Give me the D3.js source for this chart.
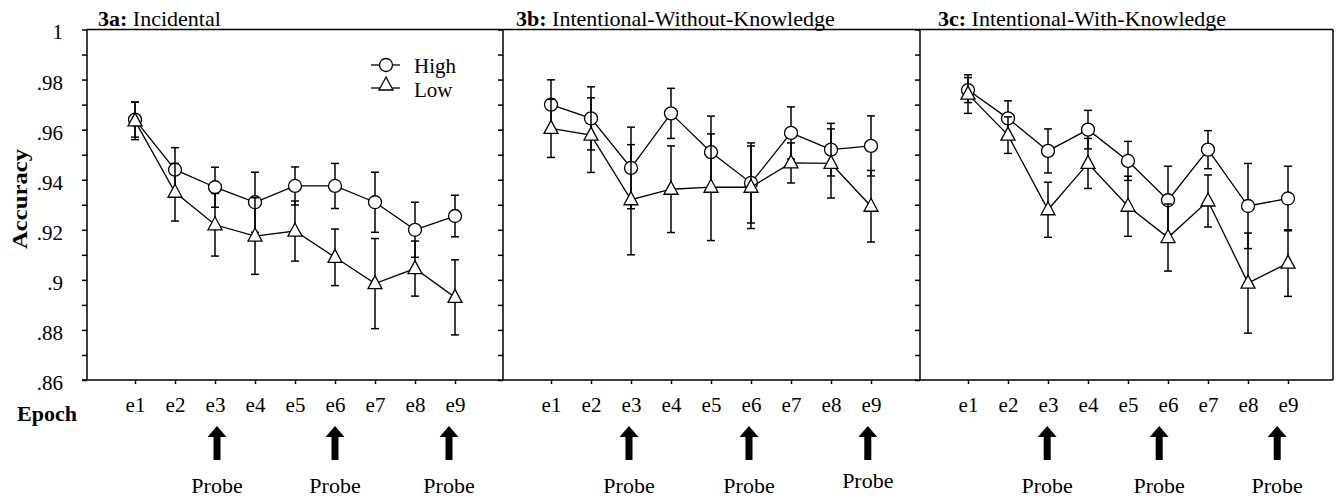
<!DOCTYPE html>
<html>
<head>
<meta charset="utf-8">
<script src="https://cdn.jsdelivr.net/npm/d3@7"></script>
<style>
  body { margin: 0; background: #fff; }
  svg text { font-family: "Liberation Serif", "Times New Roman", serif; fill: #000; }
</style>
</head>
<body>
<script>
// epochs on the x axis
var epochs = [1, 2, 3, 4, 5, 6, 7, 8, 9];

// y ticks
var yMajor = [0.86, 0.88, 0.90, 0.92, 0.94, 0.96, 0.98, 1.00];
var yMinor = [0.87, 0.89, 0.91, 0.93, 0.95, 0.97, 0.99];

var panelTags = ["3a:", "3b:", "3c:"];
var panelNames = ["Incidental", "Intentional-Without-Knowledge", "Intentional-With-Knowledge"];

// 3a Incidental
var incidentalHigh    = [0.964, 0.944, 0.937, 0.931, 0.9375, 0.9375, 0.931, 0.920, 0.9255];
var incidentalHighErr = [0.007, 0.0088, 0.008, 0.012, 0.0076, 0.009, 0.012, 0.011, 0.0083];
var incidentalLow     = [0.9635, 0.935, 0.922, 0.9175, 0.9195, 0.909, 0.8985, 0.9045, 0.893];
var incidentalLowErr  = [0.0075, 0.0115, 0.0125, 0.0153, 0.012, 0.0113, 0.018, 0.011, 0.015];

// 3b Intentional-Without-Knowledge
var withoutHigh    = [0.970, 0.9645, 0.9447, 0.9665, 0.951, 0.9387, 0.9587, 0.952, 0.9535];
var withoutHighErr = [0.0099, 0.0126, 0.0163, 0.010, 0.0144, 0.016, 0.0104, 0.0105, 0.012];
var withoutLow     = [0.9605, 0.9578, 0.932, 0.9362, 0.937, 0.937, 0.9467, 0.9465, 0.9294];
var withoutLowErr  = [0.0116, 0.0149, 0.022, 0.0173, 0.0213, 0.0165, 0.008, 0.0138, 0.0143];

// 3c Intentional-With-Knowledge
var withHigh    = [0.9758, 0.9645, 0.9515, 0.960, 0.9475, 0.9318, 0.952, 0.9295, 0.9325];
var withHighErr = [0.005, 0.007, 0.0088, 0.0077, 0.0078, 0.0136, 0.0076, 0.017, 0.0129];
var withLow     = [0.9742, 0.9578, 0.928, 0.9465, 0.9294, 0.9169, 0.9315, 0.8987, 0.9067];
var withLowErr  = [0.0077, 0.0073, 0.011, 0.010, 0.012, 0.0134, 0.0104, 0.020, 0.0133];

// where the probe arrows sit (in epoch units)
var probeEpochs = [[3.05, 6, 8.85], [2.95, 5.95, 8.92], [2.98, 5.78, 8.73]];

var panels = [
  {high: incidentalHigh, highErr: incidentalHighErr, low: incidentalLow, lowErr: incidentalLowErr},
  {high: withoutHigh, highErr: withoutHighErr, low: withoutLow, lowErr: withoutLowErr},
  {high: withHigh, highErr: withHighErr, low: withLow, lowErr: withLowErr}
];

var W = 1341, H = 500;
var plotTop = 29.5, plotBottom = 380;
var lefts = [87, 503, 920], rightEdge = 1333;
var titleDx = [11, 13, 18];

var svg = d3.select("body").append("svg")
    .attr("width", W)
    .attr("height", H);

var y = d3.scaleLinear().domain([0.86, 1]).range([plotBottom, plotTop]);

var tri = "M0,-8L7,5L-7,5Z";

// frame: top line, bottom line, panel dividers
svg.append("line").attr("x1", lefts[0]).attr("x2", rightEdge).attr("y1", plotTop).attr("y2", plotTop)
  .attr("stroke", "#000").attr("stroke-width", 1.5);
svg.append("line").attr("x1", lefts[0] - 5).attr("x2", rightEdge).attr("y1", plotBottom).attr("y2", plotBottom)
  .attr("stroke", "#000").attr("stroke-width", 1.5);
lefts.concat([rightEdge]).forEach(function(lx) {
  svg.append("line").attr("x1", lx).attr("x2", lx).attr("y1", plotTop).attr("y2", plotBottom)
    .attr("stroke", "#000").attr("stroke-width", 1.5);
});

panels.forEach(function(p, i) {
  var left = lefts[i];
  var x = d3.scaleLinear().domain([1, 9]).range([left + 48, left + 48 + 320]);
  var g = svg.append("g");

  // y axis (labels only on the first panel)
  var yAxis = d3.axisLeft(y).tickValues(yMajor).tickSize(5).tickPadding(19)
    .tickFormat(function(d) {
      if (i > 0) return "";
      return d === 1 ? "1" : d3.format(".2~f")(d).replace(/^0/, "");
    });
  var ya = g.append("g").attr("transform", "translate(" + left + ",0)").call(yAxis);
  ya.attr("font-family", null).attr("font-size", null);
  ya.select(".domain").remove();
  ya.selectAll("line").attr("stroke-width", 1.5);
  ya.selectAll("text").attr("font-size", 21).attr("dy", "0.45em");
  var ym = g.append("g").attr("transform", "translate(" + left + ",0)")
    .call(d3.axisLeft(y).tickValues(yMinor).tickSize(5).tickFormat(""));
  ym.select(".domain").remove();
  ym.selectAll("line").attr("stroke-width", 1.5);

  // x axis
  var xa = g.append("g").attr("transform", "translate(0," + plotBottom + ")")
    .call(d3.axisBottom(x).tickValues(epochs).tickSize(4).tickPadding(13)
      .tickFormat(function(d) { return "e" + d; }));
  xa.attr("font-family", null).attr("font-size", null);
  xa.select(".domain").remove();
  xa.selectAll("line").attr("stroke-width", 1.5);
  xa.selectAll("text").attr("font-size", 21);

  // title
  var t = svg.append("text").attr("x", left + titleDx[i]).attr("y", 26).attr("font-size", 22);
  t.append("tspan").attr("font-weight", "bold").text(panelTags[i] + " ");
  t.append("tspan").text(panelNames[i]);

  var line = d3.line().x(function(d, k) { return x(epochs[k]); }).y(function(d) { return y(d); });

  function series(vals, errs, isLow) {
    var eg = g.append("g").attr("stroke", "#000").attr("stroke-width", 1.5);
    vals.forEach(function(v, k) {
      var cx = x(epochs[k]), y1 = y(v + errs[k]), y2 = y(v - errs[k]);
      eg.append("line").attr("x1", cx).attr("x2", cx).attr("y1", y1).attr("y2", y2);
      eg.append("line").attr("x1", cx - 4).attr("x2", cx + 4).attr("y1", y1).attr("y2", y1);
      eg.append("line").attr("x1", cx - 4).attr("x2", cx + 4).attr("y1", y2).attr("y2", y2);
    });
    g.append("path").datum(vals).attr("d", line)
      .attr("fill", "none").attr("stroke", "#000").attr("stroke-width", 1.3);
    vals.forEach(function(v, k) {
      if (isLow) {
        g.append("path").attr("d", tri)
          .attr("transform", "translate(" + x(epochs[k]) + "," + y(v) + ")")
          .attr("fill", "#fff").attr("stroke", "#000").attr("stroke-width", 1.3);
      } else {
        g.append("circle").attr("cx", x(epochs[k])).attr("cy", y(v)).attr("r", 6.5)
          .attr("fill", "#fff").attr("stroke", "#000").attr("stroke-width", 1.3);
      }
    });
  }
  series(p.high, p.highErr, false);
  series(p.low, p.lowErr, true);

  // probe arrows and labels
  probeEpochs[i].forEach(function(e, k) {
    var ax = x(e);
    svg.append("path")
      .attr("d", "M" + ax + ",426L" + (ax + 9.5) + ",437L" + (ax + 3.5) + ",437L" + (ax + 3.5) + ",460L" +
        (ax - 3.5) + ",460L" + (ax - 3.5) + ",437L" + (ax - 9.5) + ",437Z")
      .attr("fill", "#000");
    svg.append("text").attr("x", ax).attr("y", (i === 1 && k === 2) ? 488 : 493)
      .attr("text-anchor", "middle").attr("font-size", 22).text("Probe");
  });
});

// legend in panel a
var lg = svg.append("g");
lg.append("line").attr("x1", 371).attr("x2", 400).attr("y1", 65).attr("y2", 65).attr("stroke", "#000").attr("stroke-width", 1.3);
lg.append("circle").attr("cx", 386).attr("cy", 65).attr("r", 6.5).attr("fill", "#fff").attr("stroke", "#000").attr("stroke-width", 1.3);
lg.append("text").attr("x", 414).attr("y", 73).attr("font-size", 21).text("High");
lg.append("line").attr("x1", 371).attr("x2", 400).attr("y1", 88).attr("y2", 88).attr("stroke", "#000").attr("stroke-width", 1.3);
lg.append("path").attr("d", tri).attr("transform", "translate(386,85)").attr("fill", "#fff").attr("stroke", "#000").attr("stroke-width", 1.3);
lg.append("text").attr("x", 414).attr("y", 97).attr("font-size", 21).text("Low");

// axis names
svg.append("text").attr("x", 17).attr("y", 421).attr("font-size", 22).attr("font-weight", "bold").text("Epoch");
svg.append("text").attr("transform", "translate(27,199) rotate(-90)")
  .attr("text-anchor", "middle").attr("font-size", 22).attr("font-weight", "bold")
  .attr("textLength", 100).attr("lengthAdjust", "spacingAndGlyphs").text("Accuracy");
</script>
</body>
</html>
